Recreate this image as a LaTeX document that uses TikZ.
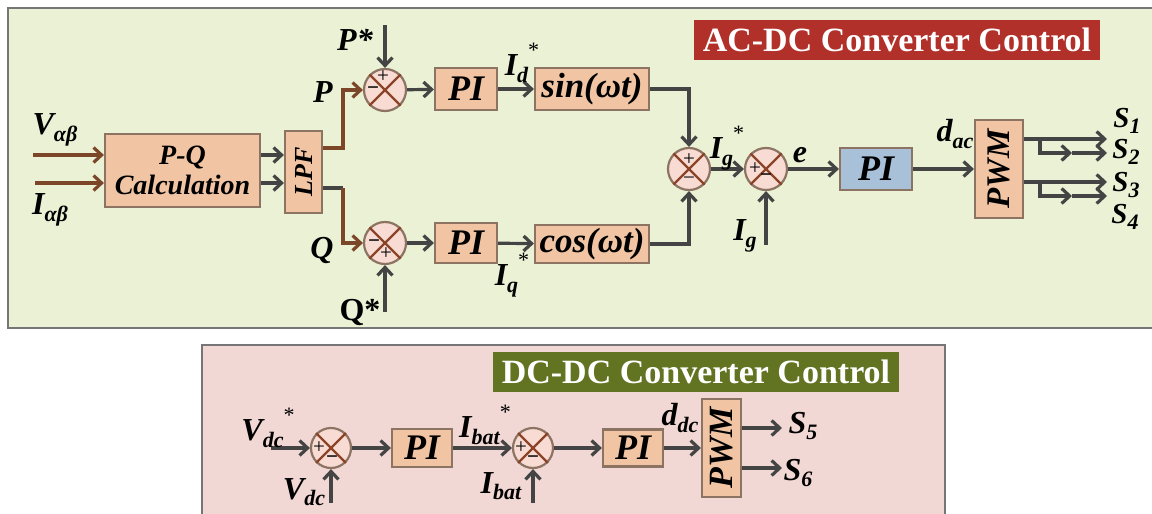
\documentclass[tikz,border=0pt]{standalone}
\usepackage{fontspec}
\setmainfont{Liberation Serif}
\usetikzlibrary{arrows.meta,calc}
\definecolor{gpanel}{RGB}{234,241,213}
\definecolor{ppanel}{RGB}{241,216,212}
\definecolor{pbrd}{RGB}{118,118,118}
\definecolor{tred}{RGB}{178,48,42}
\definecolor{tgreen}{RGB}{98,116,34}
\definecolor{bfill}{RGB}{241,197,163}
\definecolor{bbrd}{RGB}{140,115,98}
\definecolor{bblue}{RGB}{168,192,216}
\definecolor{cfill}{RGB}{248,220,212}
\definecolor{xcol}{RGB}{140,68,40}
\definecolor{dgray}{RGB}{68,68,68}
\definecolor{brn}{RGB}{124,70,40}
\newcommand{\Sb}[1]{\raisebox{-0.45ex}{\fontsize{11}{12}\selectfont #1}}
\newcommand{\St}{\raisebox{1.25ex}{\fontsize{11}{12}\selectfont\mdseries\upshape *}}
\begin{document}
\begin{tikzpicture}[x=0.5pt,y=-0.5pt,
  panel/.style={draw=pbrd,line width=1.4pt},
  title/.style={text=white,font=\fontsize{17}{20}\selectfont\bfseries,minimum width=203pt,minimum height=20pt,inner sep=0},
  blk/.style={draw=bbrd,fill=bfill,line width=1.1pt,inner sep=0},
  pifont/.style={font=\fontsize{18}{20}\selectfont\bfseries\itshape},
  sumn/.style={circle,draw=bbrd,fill=cfill,line width=1.1pt,minimum size=21pt,inner sep=0},
  xl/.style={draw=xcol,line width=1.1pt},
  sg/.style={inner sep=0,font=\fontsize{10.5}{11}\selectfont},
  lbl/.style={inner sep=0,font=\fontsize{16}{18}\selectfont\bfseries\itshape},
  slbl/.style={inner sep=0,font=\fontsize{14.5}{16}\selectfont\bfseries\itshape},
  garr/.style={draw=dgray,line width=1.6pt,-{Straight Barb[length=4pt,width=7.5pt]}},
  gline/.style={draw=dgray,line width=1.6pt},
  barr/.style={draw=brn,line width=1.6pt,-{Straight Barb[length=4pt,width=7.5pt]}}]
\clip (0,0) rectangle (1152,514);
\fill[white] (0,0) rectangle (1152,514);
% panels
\draw[panel,fill=gpanel] (8,8) rectangle (1170,328);
\draw[panel,fill=ppanel] (202,345) rectangle (945,530);
\node[title,fill=tred] (t1) at (897,40) {AC-DC Converter Control};
\node[title,fill=tgreen] (t2) at (696,372) {DC-DC Converter Control};
% top blocks
\node[blk,minimum width=77.5pt,minimum height=36.5pt,align=center,font=\fontsize{14}{15}\selectfont\bfseries\itshape] (pq) at (182.5,170.5) {P-Q\\Calculation};
\node[blk,minimum width=18.5pt,minimum height=41pt,font=\fontsize{13}{14}\selectfont\bfseries\itshape] (lpf) at (303.5,172) {\rotatebox{90}{LPF}};
\node[sumn] (s1) at (385,90) {};
\node[sumn] (s2) at (385,243) {};
\node[blk,pifont,minimum width=31pt,minimum height=21pt] (pi1) at (466,89) {PI};
\node[blk,pifont,minimum width=31pt,minimum height=20pt] (pi2) at (466,243) {PI};
\node[blk,font=\fontsize{17.5}{20}\selectfont\bfseries\itshape,minimum width=57pt,minimum height=21pt] (sin) at (592,89) {sin(ωt)};
\node[blk,font=\fontsize{17.5}{20}\selectfont\bfseries\itshape,minimum width=57pt,minimum height=19pt] (cos) at (592,244) {cos(ωt)};
\node[sumn] (s3) at (689,169) {};
\node[sumn] (s4) at (766,169) {};
\node[blk,pifont,fill=bblue,minimum width=36pt,minimum height=21pt] (pi3) at (876,169) {PI};
\node[blk,minimum width=24pt,minimum height=49pt,font=\fontsize{16.5}{18}\selectfont\bfseries\itshape] (pwm1) at (999,169) {\rotatebox{90}{PWM}};
% bottom blocks
\node[sumn,minimum size=20pt] (s5) at (331,448) {};
\node[blk,pifont,minimum width=30pt,minimum height=19pt] (pi4) at (422,448) {PI};
\node[sumn,minimum size=20pt] (s6) at (533,448) {};
\node[blk,pifont,minimum width=30pt,minimum height=18.5pt] (pi5) at (633,448) {PI};
\node[blk,minimum width=19.5pt,minimum height=49pt,font=\fontsize{17}{19}\selectfont\bfseries\itshape] (pwm2) at (721.5,448) {\rotatebox{90}{PWM}};
% crosses
\foreach \s in {s1,s2,s3,s4,s5,s6}{\draw[xl] (\s.45) -- (\s.225) (\s.135) -- (\s.315);}
% signs
\node[sg] at ($(s1)+(-2,-13)$) {+};
\node[sg] at ($(s1)+(-12,1)$) {\textbf{−}};
\node[sg] at ($(s2)+(-11,1)$) {\textbf{−}};
\node[sg] at ($(s2)+(1,11)$) {+};
\node[sg] at ($(s3)+(0,-9)$) {+};
\node[sg] at ($(s3)+(0,12)$) {−};
\node[sg] at ($(s4)+(-11,0)$) {+};
\node[sg] at ($(s4)+(0,9)$) {\textbf{−}};
\node[sg] at ($(s5)+(-12,0)$) {+};
\node[sg] at ($(s5)+(1,12)$) {\textbf{−}};
\node[sg] at ($(s6)+(-12,0)$) {+};
\node[sg] at ($(s6)+(0,12)$) {\textbf{−}};
% coordinates
\coordinate (vin) at (33,155);
\coordinate (iin) at (35,183);
\coordinate (b1) at (343,148);
\coordinate (b2) at (343,188);
\coordinate (pst) at (385,25);
\coordinate (qst) at (385,312);
\coordinate (igc) at (766,245);
\coordinate (o1) at (1107,139);
\coordinate (o2) at (1107,153);
\coordinate (o3) at (1107,182);
\coordinate (o4) at (1107,196);
\coordinate (k1) at (1040,139);
\coordinate (k3) at (1040,182);
\coordinate (m2) at (1072,153);
\coordinate (m4) at (1072,196);
\coordinate (vdcs) at (271,448);
\coordinate (vdcb) at (331,503);
\coordinate (ibb) at (533,503);
\coordinate (o5) at (782,428);
\coordinate (o6) at (782,468);
% top connectors
\draw[barr] (vin) -- (vin -| pq.west);
\draw[barr] (iin) -- (iin -| pq.west);
\draw[garr] (vin -| pq.east) -- (vin -| lpf.west);
\draw[garr] (iin -| pq.east) -- (iin -| lpf.west);
\draw[barr] (b1 -| lpf.east) -- (b1) |- (s1);
\draw[gline] (b2 -| lpf.east) -- (b2);
\draw[barr] (b2) |- (s2);
\draw[garr] (pst) -- (s1);
\draw[garr] (qst) -- (s2);
\draw[garr] (s1) -- (pi1);
\draw[garr] (pi1) -- (sin);
\draw[garr] (s2) -- (pi2);
\draw[garr] (pi2) -- (cos);
\draw[garr] (sin) -| (s3);
\draw[garr] (cos) -| (s3);
\draw[garr] (s3) -- (s4);
\draw[garr] (igc) -- (s4);
\draw[garr] (s4) -- (pi3);
\draw[garr] (pi3) -- (pwm1);
\draw[garr] (o1 -| pwm1.east) -- (o1);
\draw[garr] (k1) |- (m2);
\draw[garr] (m2) -- (o2);
\draw[garr] (o3 -| pwm1.east) -- (o3);
\draw[garr] (k3) |- (m4);
\draw[garr] (m4) -- (o4);
% bottom connectors
\draw[garr] (vdcs) -- (s5);
\draw[garr] (vdcb) -- (s5);
\draw[garr] (s5) -- (pi4);
\draw[garr] (pi4) -- (s6);
\draw[garr] (ibb) -- (s6);
\draw[garr] (s6) -- (pi5);
\draw[garr] (pi5) -- (pwm2);
\draw[garr] (o5 -| pwm2.east) -- (o5);
\draw[garr] (o6 -| pwm2.east) -- (o6);
% labels
\node[lbl] (lv) at (55,130) {V\Sb{αβ}};
\node[lbl] (li) at (50,210) {I\Sb{αβ}};
\node[lbl] (lp) at (323,92) {P};
\node[lbl] (lps) at (355,40) {P*};
\node[lbl] (lq) at (322,250) {Q};
\node[lbl,font=\fontsize{16}{18}\selectfont\bfseries] (lqs) at (360,312) {Q*};
\node[lbl] (lid) at (522,63) {I\Sb{d}\St};
\node[lbl] (liq) at (512,275) {I\Sb{q}\St};
\node[lbl] (ligs) at (727,148) {I\Sb{g}\St};
\node[lbl] (lig) at (745,236) {I\Sb{g}};
\node[lbl] (le) at (800,155) {e};
\node[lbl] (ldac) at (955,134) {d\Sb{ac}};
\node[slbl] (ls1) at (1127,121) {S\Sb{1}};
\node[slbl] (ls2) at (1126,152) {S\Sb{2}};
\node[slbl] (ls3) at (1126,185) {S\Sb{3}};
\node[slbl] (ls4) at (1125,217) {S\Sb{4}};
\node[lbl] (lvds) at (268,428) {V\Sb{dc}\St};
\node[lbl] (lvd) at (304,492) {V\Sb{dc}};
\node[lbl] (libs) at (485,425) {I\Sb{bat}\St};
\node[lbl] (lib) at (501,486) {I\Sb{bat}};
\node[lbl] (lddc) at (680,418) {d\Sb{dc}};
\node[lbl] (ls5) at (803,426) {S\Sb{5}};
\node[lbl] (ls6) at (798,473) {S\Sb{6}};
\end{tikzpicture}
\end{document}
